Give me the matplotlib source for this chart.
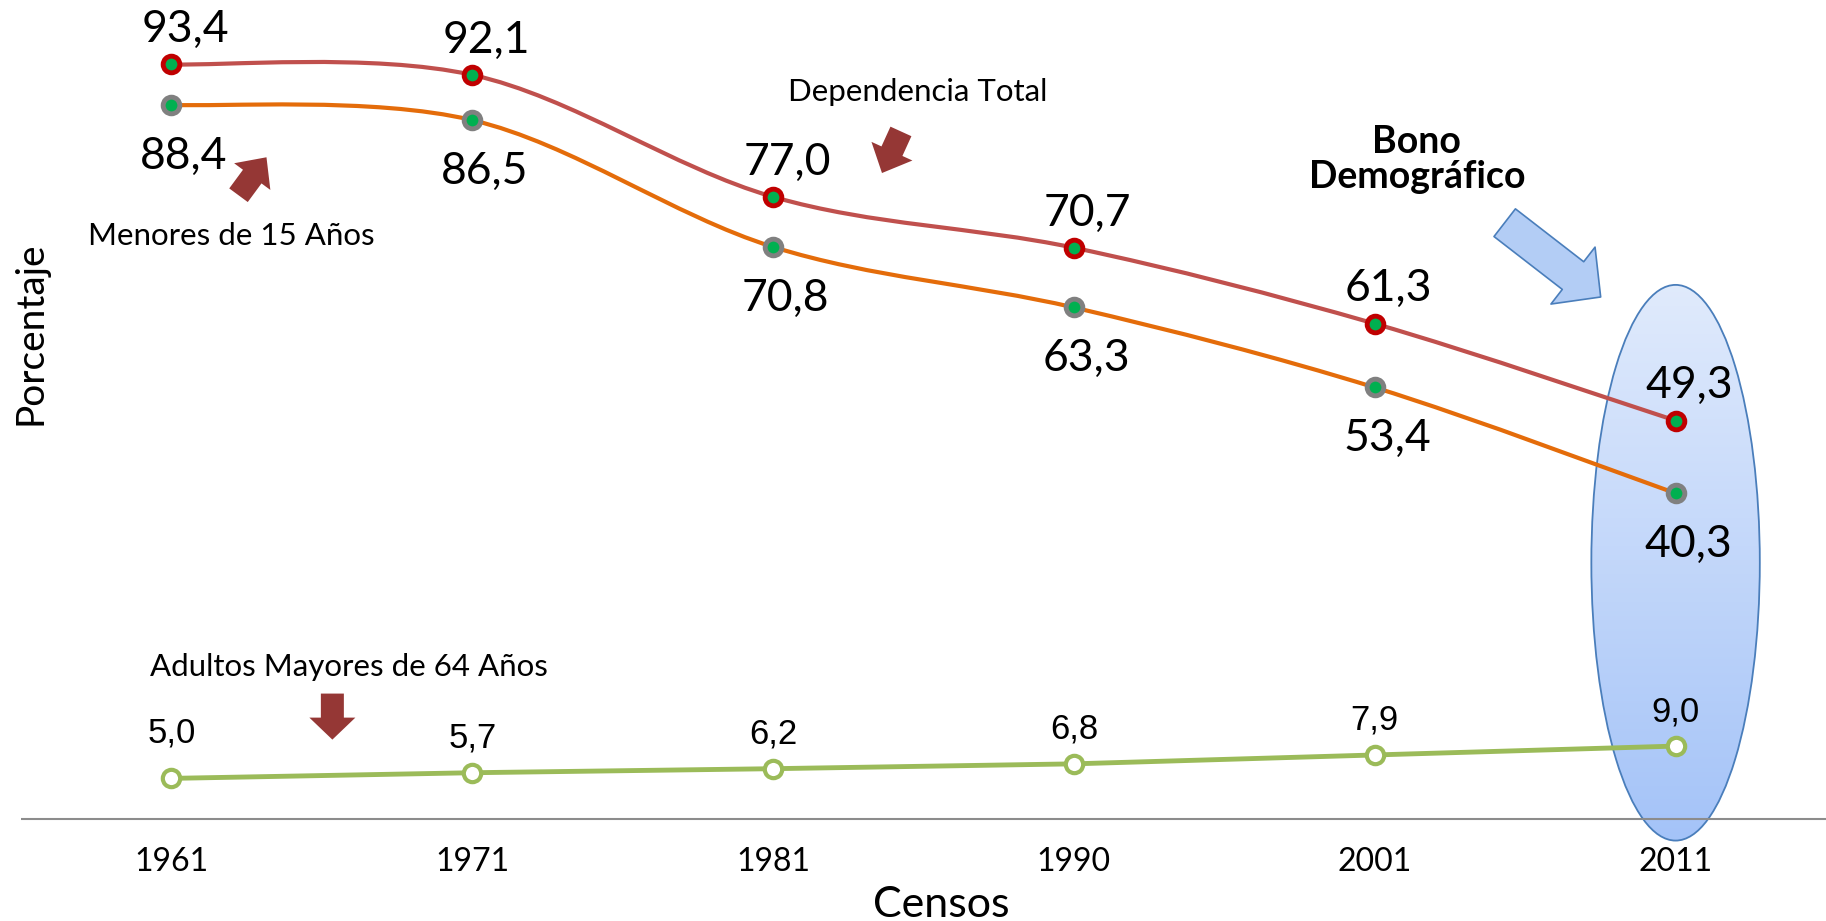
import numpy as np
import matplotlib.pyplot as plt
from matplotlib.colors import LinearSegmentedColormap
from matplotlib.patches import Ellipse, FancyArrowPatch, PathPatch, ArrowStyle
from matplotlib.path import Path

censos = ['1961', '1971', '1981', '1990', '2001', '2011']
dependencia_total = [93.4, 92.1, 77.0, 70.7, 61.3, 49.3]
menores_15 = [88.4, 86.5, 70.8, 63.3, 53.4, 40.3]
mayores_64 = [5.0, 5.7, 6.2, 6.8, 7.9, 9.0]

W, H = 1826, 921


def smooth_path(xs, ys):
    # excel style smoothed line: catmull-rom turned into cubic bezier segments
    pts = np.column_stack([xs, ys]).astype(float)
    ext = np.vstack([pts[0], pts, pts[-1]])
    verts = [pts[0]]
    codes = [Path.MOVETO]
    for i in range(len(pts) - 1):
        p0, p1, p2, p3 = ext[i], ext[i + 1], ext[i + 2], ext[i + 3]
        verts += [p1 + (p2 - p0) / 6, p2 - (p3 - p1) / 6, p2]
        codes += [Path.CURVE4] * 3
    return Path(verts, codes)


def fmt(v):
    return f'{v:.1f}'.replace('.', ',')


def block_arrow(tail, tip, head_length, head_width, tail_width, fc, ec='none'):
    # sizes are in pixels (mutation_scale 0.72 pt == 1 px at 100 dpi)
    style = ArrowStyle('Simple', head_length=head_length, head_width=head_width, tail_width=tail_width)
    ax.add_patch(FancyArrowPatch(tail, tip, arrowstyle=style, mutation_scale=0.72, fc=fc, ec=ec, lw=1.2,
                                 shrinkA=0, shrinkB=0, zorder=5, clip_on=False))


plt.rcParams['font.family'] = ['Lato', 'DejaVu Sans']

fig = plt.figure(figsize=(W / 100, H / 100), dpi=100)
ax = fig.add_axes([21 / W, 1 - 843 / H, 1 - 21 / W, 840 / H])
x = np.arange(len(censos))

# bono demografico ellipse with a vertical gradient
ell = Ellipse((x[-1], 31.7), 0.56, 68.8, facecolor='none', edgecolor='#4a7ebb', lw=1.3, zorder=1.5)
ax.add_patch(ell)
grad = np.linspace(0, 1, 256).reshape(-1, 1)
cmap = LinearSegmentedColormap.from_list('bono', ['#e1ebfc', '#a4c3f8'])
im = ax.imshow(grad, cmap=cmap, extent=(x[-1] - 0.3, x[-1] + 0.3, -3, 67), aspect='auto',
               origin='upper', zorder=1.4)
im.set_clip_path(ell)

ax.set_xlim(-0.5, 5.5)
ax.set_ylim(-3, 101)
for s in ax.spines.values():
    s.set_visible(False)
ax.set_yticks([])
ax.set_xticks(x)
ax.set_xticklabels(censos, fontsize=23)
ax.tick_params(axis='x', length=0, pad=3)
ax.axhline(0, color='#8c8c8c', lw=1.5, zorder=2)

# dependencia total
ax.add_patch(PathPatch(smooth_path(x, dependencia_total), fill=False, edgecolor='#c0504d', lw=3, zorder=3))
ax.plot(x, dependencia_total, ls='none', marker='o', ms=12, mfc='#00b050', mec='#c00000', mew=3.5, zorder=4)
# menores de 15
ax.add_patch(PathPatch(smooth_path(x, menores_15), fill=False, edgecolor='#e46c0a', lw=3, zorder=3))
ax.plot(x, menores_15, ls='none', marker='o', ms=12, mfc='#00b050', mec='#808080', mew=3.5, zorder=4)
# mayores de 64
ax.plot(x, mayores_64, color='#9bbb59', lw=3.5, marker='o', ms=12.5, mfc='white', mec='#9bbb59', mew=3,
        zorder=4)

for xi, v in zip(x, dependencia_total):
    ax.annotate(fmt(v), (xi, v), xytext=(10, 16), textcoords='offset points', ha='center', va='baseline',
                fontsize=32, zorder=6)
for xi, v in zip(x, menores_15):
    ax.annotate(fmt(v), (xi, v), xytext=(9, -46), textcoords='offset points', ha='center', va='baseline',
                fontsize=32, zorder=6)
for i, (xi, v) in enumerate(zip(x, mayores_64)):
    dy = 26 if i == 0 else 18
    ax.annotate(fmt(v), (xi, v), xytext=(0, dy), textcoords='offset points', ha='center', va='baseline',
                fontsize=25, family=['Liberation Sans', 'DejaVu Sans'], zorder=6)

ax.text(0.2, 72.2, 'Menores de 15 Años', ha='center', va='center', fontsize=22.5)
ax.text(2.48, 90, 'Dependencia Total', ha='center', va='center', fontsize=22.5)
ax.text(0.59, 18.8, 'Adultos Mayores de 64 Años', ha='center', va='center', fontsize=22.5)
ax.text(4.14, 81.6, 'Bono\nDemográfico', ha='center', va='center', fontsize=27, fontweight='bold',
        linespacing=1.05)

red = '#953735'
block_arrow((0.223, 77.2), (0.316, 81.9), 24, 45, 23, red)
block_arrow((2.425, 85.1), (2.362, 79.95), 24, 45, 23, red)
block_arrow((0.535, 15.5), (0.535, 9.8), 22, 46, 23, red)
block_arrow((4.432, 73.8), (4.751, 64.6), 35, 72, 35, '#b3cdf5', '#4a7ebb')

fig.text(941 / W, 1 - 905 / H, 'Censos', ha='center', va='center', fontsize=31)
fig.text(30 / W, 1 - 333 / H, 'Porcentaje', rotation=90, ha='center', va='center', fontsize=28)

fig.savefig('out.png', dpi=100)
